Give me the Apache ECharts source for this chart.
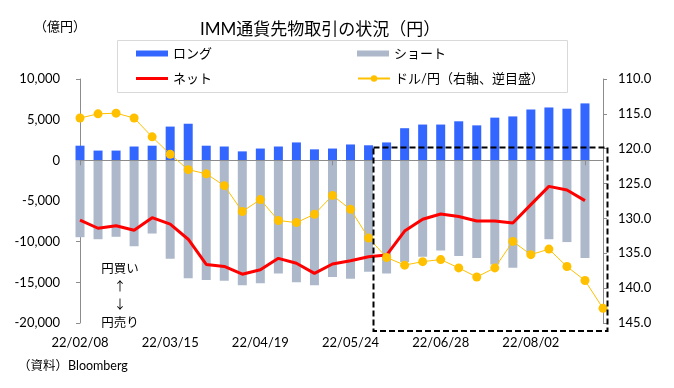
<!DOCTYPE html>
<html><head><meta charset="utf-8">
<script src="https://cdn.jsdelivr.net/npm/echarts@6/dist/echarts.min.js"></script>
<style>html,body{margin:0;padding:0;background:#fff}#c{width:674px;height:388px}</style>
</head><body><div id="c"></div>
<script>
// Weekly categories (22/02/08 .. 22/08/30)
const categories = ['22/02/08','22/02/15','22/02/22','22/03/01','22/03/08','22/03/15','22/03/22','22/03/29','22/04/05','22/04/12','22/04/19','22/04/26','22/05/03','22/05/10','22/05/17','22/05/24','22/05/31','22/06/07','22/06/14','22/06/21','22/06/28','22/07/05','22/07/12','22/07/19','22/07/26','22/08/02','22/08/09','22/08/16','22/08/23','22/08/30'];
// ロング (億円)
const longData = [1800,1200,1200,1700,1800,4150,4500,1800,1700,1100,1450,1700,2200,1350,1450,1950,1850,2200,3950,4400,4400,4800,4300,5250,5400,6250,6500,6350,7000];
// ショート (億円)
const shortData = [-9450,-9700,-9400,-10550,-9000,-12100,-14500,-14700,-14800,-15350,-15100,-13900,-15000,-15350,-14350,-14550,-13700,-13900,-12500,-11850,-11100,-11750,-12000,-12800,-13200,-11500,-9700,-10050,-12000];
// ネット (億円)
const netData = [-7350,-8350,-8050,-8600,-7050,-7850,-9700,-12800,-13050,-14000,-13450,-12050,-12650,-13900,-12750,-12350,-11850,-11650,-8700,-7250,-6600,-6900,-7450,-7450,-7700,-5450,-3200,-3650,-4950];
// ドル/円 (右軸、逆目盛)
const usdjpyData = [115.6,115.0,114.9,115.6,118.3,120.8,123.0,123.6,125.3,129.0,127.3,130.3,130.6,129.4,126.7,128.7,132.8,135.6,136.7,136.2,135.9,137.1,138.4,137.1,133.3,135.2,134.4,136.9,138.9,142.9];
// Axis scales
const leftAxis = {min: -20000, max: 10000, interval: 5000};
const rightAxis = {min: 110, max: 145, interval: 5};

const seriesNames = ['ロング','ショート','ネット','ドル/円（右軸、逆目盛）'];
const FONT = "Lato, 'Noto Sans CJK JP', sans-serif";
const AXIS_COLOR = '#8c8c8c';

const chart = echarts.init(document.getElementById('c'), null, {renderer: 'canvas'});
const legendBase = {padding: 0, itemWidth: 32, textStyle: {fontSize: 13, color: '#000', fontFamily: FONT}, selectedMode: false};
chart.setOption({
  animation: false,
  textStyle: {fontFamily: FONT},
  title: {text: 'IMM通貨先物取引の状況（円）', left: 200, top: 21, padding: 0,
    textStyle: {fontSize: 17, fontWeight: 'normal', color: '#000', fontFamily: FONT}},
  legend: [
    Object.assign({}, legendBase, {data: [{name: seriesNames[0], icon: 'rect'}], left: 136, top: 47, itemHeight: 6}),
    Object.assign({}, legendBase, {data: [{name: seriesNames[1], icon: 'rect'}], left: 357, top: 47, itemHeight: 6}),
    Object.assign({}, legendBase, {data: [{name: seriesNames[2], icon: 'rect'}], left: 136, top: 72, itemHeight: 3}),
    Object.assign({}, legendBase, {data: [seriesNames[3]], left: 357, top: 72, itemHeight: 8})
  ],
  grid: {left: 80, right: 71, top: 79, bottom: 65, containLabel: false},
  xAxis: [
    {type: 'category', data: categories, boundaryGap: false, position: 'bottom', z: 3,
      axisLine: {onZero: true, lineStyle: {color: AXIS_COLOR, width: 1}},
      axisTick: {show: true, interval: 13, length: 5, lineStyle: {color: AXIS_COLOR}},
      axisLabel: {show: false}, splitLine: {show: false}},
    {type: 'category', data: categories, boundaryGap: false, position: 'bottom',
      axisLine: {show: false, onZero: false}, axisTick: {show: false},
      axisLabel: {interval: 4, margin: 13, fontSize: 13, color: '#000', fontFamily: FONT},
      splitLine: {show: false}}
  ],
  yAxis: [
    {type: 'value', min: leftAxis.min, max: leftAxis.max, interval: leftAxis.interval, position: 'left',
      axisLine: {show: true, lineStyle: {color: AXIS_COLOR}},
      axisTick: {show: true, length: 4, lineStyle: {color: AXIS_COLOR}},
      axisLabel: {margin: 20, fontSize: 13, color: '#000', fontFamily: FONT,
        formatter: v => v.toLocaleString('en-US')},
      splitLine: {show: false}},
    {type: 'value', min: rightAxis.min, max: rightAxis.max, interval: rightAxis.interval, inverse: true, position: 'right',
      axisLine: {show: true, lineStyle: {color: AXIS_COLOR}},
      axisTick: {show: true, length: 4, lineStyle: {color: AXIS_COLOR}},
      axisLabel: {margin: 15, fontSize: 13, color: '#000', fontFamily: FONT,
        formatter: v => v.toFixed(1)},
      splitLine: {show: false}}
  ],
  series: [
    {name: seriesNames[0], type: 'bar', data: longData, barWidth: 9, barGap: '-100%', clip: false,
      itemStyle: {color: '#3366FF'}},
    {name: seriesNames[1], type: 'bar', data: shortData, barWidth: 9, barGap: '-100%', clip: false,
      itemStyle: {color: '#ADB9CA'}},
    {name: seriesNames[2], type: 'line', data: netData, symbol: 'none', z: 4,
      lineStyle: {color: '#FF0000', width: 3}, itemStyle: {color: '#FF0000'}},
    {name: seriesNames[3], type: 'line', data: usdjpyData, yAxisIndex: 1, symbol: 'circle', symbolSize: 9, z: 5,
      lineStyle: {color: '#FFC000', width: 1}, itemStyle: {color: '#FFC000'}}
  ],
  graphic: [
    {type: 'rect', z: 0, silent: true, shape: {x: 117.5, y: 40.5, width: 450, height: 52},
      style: {fill: 'none', stroke: '#d9d9d9', lineWidth: 1}},
    {type: 'text', silent: true, style: {text: '（億円）', x: 60, y: 26, textAlign: 'center', textVerticalAlign: 'middle',
      font: "13px 'Noto Sans CJK JP'", fill: '#000'}},
    {type: 'text', silent: true, style: {text: '円買い\n↑\n↓\n円売り', x: 120, y: 259, textAlign: 'center',
      font: "12.5px 'Noto Sans CJK JP'", lineHeight: 18, fill: '#000'}},
    {type: 'text', silent: true, style: {text: '（資料）Bloomberg', x: 18, y: 366, textAlign: 'left', textVerticalAlign: 'middle',
      font: "12.5px Lato, 'Noto Sans CJK JP'", fill: '#000'}},
    {type: 'rect', z: 100, silent: true, shape: {x: 373.5, y: 147.5, width: 234, height: 183.5},
      style: {fill: 'none', stroke: '#000', lineWidth: 2, lineDash: [6, 3]}}
  ]
});
</script></body></html>
